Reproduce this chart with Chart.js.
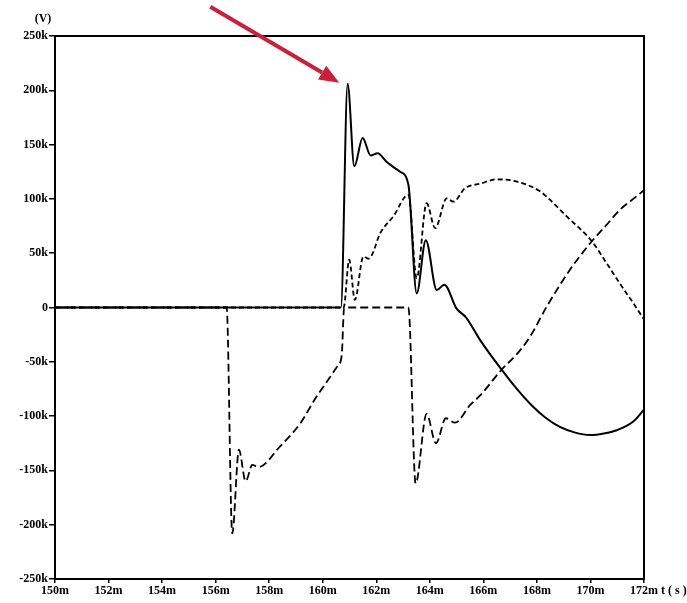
<!DOCTYPE html>
<html>
<head>
<meta charset="utf-8">
<script src="https://cdn.jsdelivr.net/npm/chart.js@4.4.1/dist/chart.umd.min.js"></script>
<style>
  html, body { margin: 0; padding: 0; background: #fff; }
  #wrap { width: 687px; height: 603px; position: relative; }
</style>
</head>
<body>
<div id="wrap"><canvas id="c"></canvas></div>
<script>
"use strict";
// time in ms, voltage in kV
const solidT = [150, 160.68, 160.93, 161.18, 161.49, 161.79, 162.05, 162.39, 162.89, 163.2, 163.51, 163.85, 164.26, 164.54, 165.0, 165.35, 165.88, 166.69, 167.25, 167.8, 168.3, 168.86, 169.4, 169.99, 170.5, 170.98, 171.6, 172];
const solidV = [0, 0, 206, 130, 156, 140, 142, 134, 125, 113, 13, 62, 16, 21, -1, -9, -30, -57.5, -75, -90, -101, -110, -115, -117.4, -116, -113, -105, -94];

const shortT = [150, 160.78, 160.99, 161.2, 161.52, 161.7, 161.83, 162.14, 162.64, 163.2, 163.51, 163.88, 164.2, 164.63, 164.88, 165.32, 165.88, 166.5, 167.25, 168.12, 168.43, 169.11, 170.05, 170.6, 171.1, 171.6, 172];
const shortV = [0, 0, 44, 7, 47, 45, 48, 68, 84, 104, 27, 96, 73, 100.5, 97.4, 110, 114, 118, 116, 107, 100.5, 84, 61, 41, 22, 4, -11];

const longT = [150, 156.41, 156.62, 156.87, 157.12, 157.37, 157.6, 158.4, 159.15, 159.77, 160.25, 160.55, 160.71, 160.8, 163.2, 163.47, 163.88, 164.23, 164.6, 164.94, 165.5, 165.88, 166.69, 167.25, 167.74, 168.37, 169.24, 169.6, 170.05, 170.6, 171.1, 171.6, 172];
const longV = [0, 0, -208, -131, -160, -145, -147, -128, -107, -82, -65, -54, -44, 0, 0, -162, -98, -125, -102, -106, -90, -81, -57, -43, -27, 1, 35, 47, 61, 76, 90, 100, 108];

const xTicks = [150, 152, 154, 156, 158, 160, 162, 164, 166, 168, 170, 172];
const yTicks = [-250, -200, -150, -100, -50, 0, 50, 100, 150, 200, 250];

// red arrow pointing at the peak (data coords)
const arrowTail = { x: 155.8, y: 277 };
const arrowTip = { x: 160.62, y: 207 };

const pts = (t, v) => t.map((x, i) => ({ x: x, y: v[i] }));
const FONT = { family: "'Liberation Serif', 'DejaVu Serif', serif", size: 12, weight: "bold" };

const frame = {
  id: "frame",
  afterDraw(chart){
    const { ctx, chartArea: a, scales } = chart;
    ctx.save();
    ctx.strokeStyle = "#000"; ctx.lineWidth = 2;
    ctx.strokeRect(a.left, a.top, a.right - a.left, a.bottom - a.top);
    ctx.fillStyle = "#000";
    ctx.font = "bold 12px 'Liberation Serif', serif";
    ctx.textBaseline = "middle";
    ctx.textAlign = "center";
    ctx.fillText("(V)", 43, 19);
    ctx.textAlign = "left";
    ctx.fillText("t ( s )", 661, 591);
    // arrow
    const x1 = scales.x.getPixelForValue(arrowTail.x), y1 = scales.y.getPixelForValue(arrowTail.y);
    const x2 = scales.x.getPixelForValue(arrowTip.x), y2 = scales.y.getPixelForValue(arrowTip.y);
    const ang = Math.atan2(y2 - y1, x2 - x1), hl = 20, hw = 8;
    const bx = x2 - hl * Math.cos(ang), by = y2 - hl * Math.sin(ang);
    ctx.strokeStyle = "#cc1f3a"; ctx.fillStyle = "#cc1f3a"; ctx.lineWidth = 4;
    ctx.beginPath(); ctx.moveTo(x1, y1); ctx.lineTo(bx, by); ctx.stroke();
    ctx.beginPath();
    ctx.moveTo(x2, y2);
    ctx.lineTo(bx + hw * Math.sin(ang), by - hw * Math.cos(ang));
    ctx.lineTo(bx - hw * Math.sin(ang), by + hw * Math.cos(ang));
    ctx.closePath(); ctx.fill();
    ctx.restore();
  }
};

const line = (data, dash, w) => ({
  data: data, showLine: true, borderColor: "#000", borderWidth: w, borderDash: dash,
  pointRadius: 0, fill: false, cubicInterpolationMode: "monotone"
});

new Chart(document.getElementById("c"), {
  type: "scatter",
  data: { datasets: [
    line(pts(solidT, solidV), [], 2),
    line(pts(shortT, shortV), [5, 3], 1.8),
    line(pts(longT, longV), [8, 4], 1.8)
  ]},
  options: {
    responsive: true, maintainAspectRatio: false, animation: false,
    layout: { padding: { left: 0, top: 36, right: 43, bottom: 0 } },
    plugins: { legend: { display: false }, tooltip: { enabled: false } },
    scales: {
      x: {
        type: "linear", min: 150, max: 172,
        afterBuildTicks: s => { s.ticks = xTicks.map(v => ({ value: v })); },
        afterFit: s => { s.height = 24; },
        ticks: { callback: v => v + "m", font: FONT, color: "#000", padding: 1, maxRotation: 0, autoSkip: false },
        grid: { drawOnChartArea: false, drawTicks: true, tickLength: 4, color: "#000", lineWidth: 1.5 },
        border: { display: true, color: "#000", width: 2 }
      },
      y: {
        min: -250, max: 250,
        afterBuildTicks: s => { s.ticks = yTicks.map(v => ({ value: v })); },
        afterFit: s => { s.width = 55; },
        ticks: { callback: v => v === 0 ? "0" : v + "k", font: FONT, color: "#000", padding: 1, autoSkip: false },
        grid: { drawOnChartArea: false, drawTicks: true, tickLength: 6, color: "#000", lineWidth: 1.5 },
        border: { display: true, color: "#000", width: 2 }
      }
    }
  },
  plugins: [frame]
});
</script>
</body>
</html>
